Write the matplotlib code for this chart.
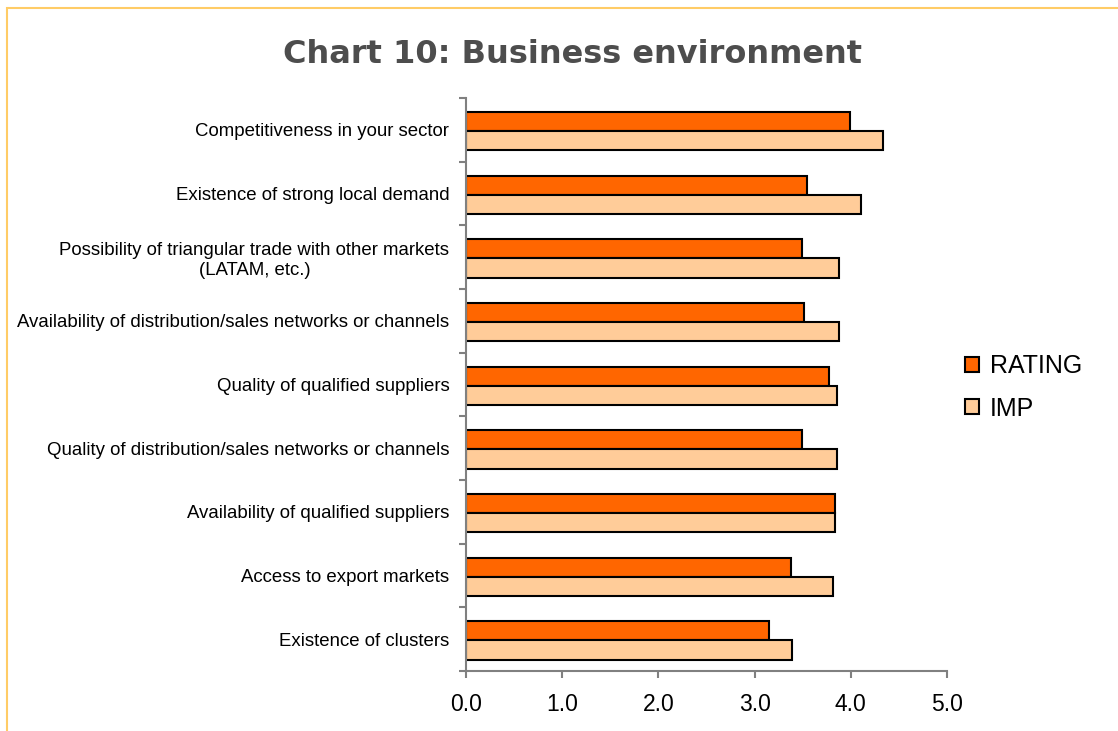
import matplotlib.pyplot as plt
from matplotlib.patches import Rectangle
import numpy as np

categories = [
    "Competitiveness in your sector",
    "Existence of strong local demand",
    "Possibility of triangular trade with other markets\n(LATAM, etc.)",
    "Availability of distribution/sales networks or channels",
    "Quality of qualified suppliers",
    "Quality of distribution/sales networks or channels",
    "Availability of qualified suppliers",
    "Access to export markets",
    "Existence of clusters",
]
rating = [3.99, 3.55, 3.49, 3.51, 3.77, 3.49, 3.84, 3.38, 3.15]
imp = [4.34, 4.11, 3.88, 3.88, 3.86, 3.86, 3.84, 3.82, 3.39]
xticks = [0, 1, 2, 3, 4, 5]

fig = plt.figure(figsize=(11.18, 7.31), dpi=100)
ax = fig.add_axes([0.4168, 0.082, 0.4302, 0.784])

# frame around the whole chart
fig.patches.append(Rectangle((7 / 1118, -0.1), 1.2, 1.1 - 8 / 731,
                             transform=fig.transFigure, fill=False,
                             edgecolor="#FFCC66", linewidth=1.5))

y = np.arange(len(categories))
h = 0.30
ax.barh(y - h / 2 + 0.02, rating, height=h, color="#FF6600", edgecolor="black",
        linewidth=1.5, label="RATING")
ax.barh(y + h / 2 + 0.02, imp, height=h, color="#FFCC99", edgecolor="black",
        linewidth=1.5, label="IMP")

ax.set_xlim(0, 5)
ax.set_ylim(len(categories) - 0.5, -0.5)

ax.set_xticks(xticks)
ax.set_xticklabels([f"{v:.1f}" for v in xticks], fontsize=16.5,
                   family="Liberation Sans")
ax.set_yticks(y)
ax.set_yticklabels(categories, fontsize=13.4, family="Liberation Sans",
                   multialignment="center")
ax.set_yticks(np.arange(-0.5, len(categories)), minor=True)
ax.tick_params(axis="y", which="major", length=0, pad=12)
ax.tick_params(axis="y", which="minor", length=5, width=1.5, color="#808080")
ax.tick_params(axis="x", length=5, width=1.5, color="#808080", pad=11)

for side in ("top", "right"):
    ax.spines[side].set_visible(False)
for side in ("left", "bottom"):
    ax.spines[side].set_color("#808080")
    ax.spines[side].set_linewidth(1.5)

fig.text(0.512, 0.925, "Chart 10: Business environment", ha="center",
         va="center", fontsize=23, fontweight="bold", color="#4D4D4D",
         family="DejaVu Sans")

leg = fig.legend(loc="center left", bbox_to_anchor=(0.843, 0.47),
                 frameon=False, prop={"family": "Liberation Sans", "size": 18},
                 handlelength=0.55, handleheight=0.55, handletextpad=0.45,
                 labelspacing=0.75)

fig.savefig("out.png", dpi=100)
